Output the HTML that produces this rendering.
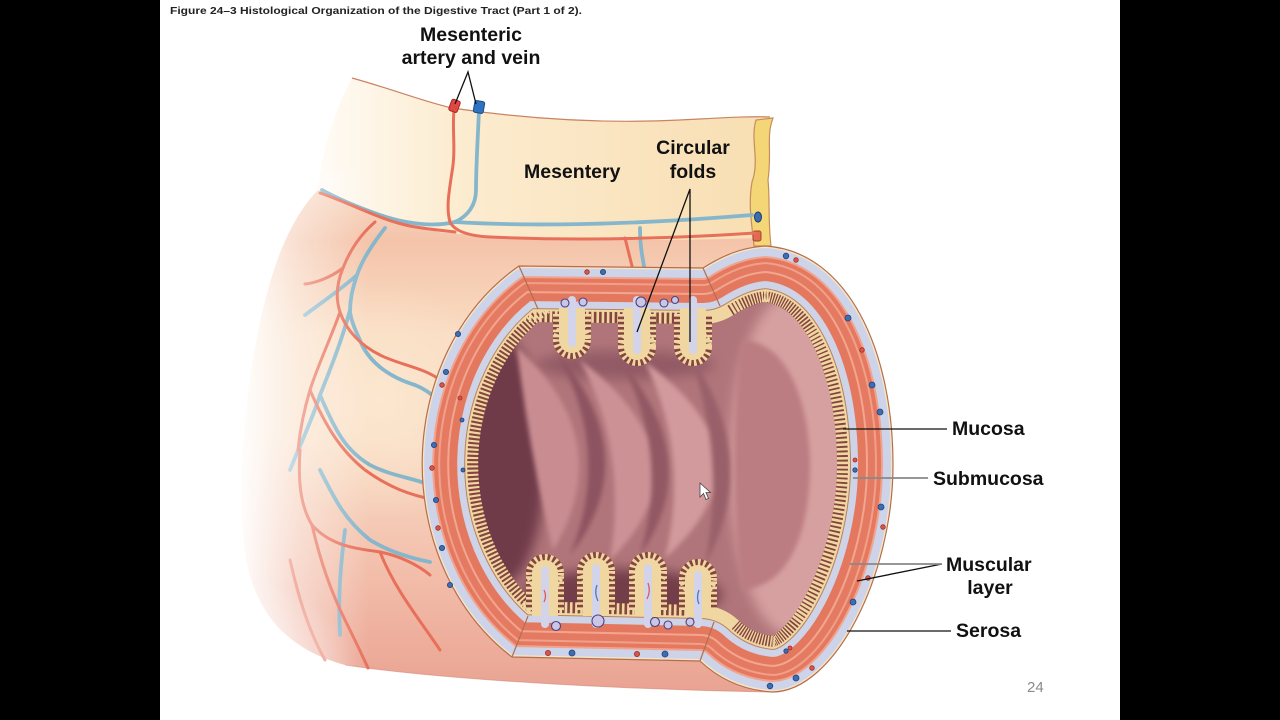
<!DOCTYPE html>
<html><head><meta charset="utf-8"><style>
html,body{margin:0;padding:0;background:#000;}
svg{display:block;}
.lb{font-family:"Liberation Sans",Arial,sans-serif;font-weight:bold;font-size:19.5px;fill:#111;}
</style></head><body>
<svg width="1280" height="720" viewBox="0 0 1280 720" xmlns="http://www.w3.org/2000/svg">
<defs>
<path id="outer" d="M519,266 L703,268 C722,256 742,247 766,246 C848,252 893,350 893,465 C893,575 835,692 772,692 C742,690 718,678 700,661 L512,657 A197,230 0 0 1 519,266 Z"/>
<clipPath id="clipO"><use href="#outer"/></clipPath>
<linearGradient id="bodyG" x1="0" y1="180" x2="0" y2="692" gradientUnits="userSpaceOnUse">
<stop offset="0" stop-color="#f8dcc8"/><stop offset="0.12" stop-color="#f4c4aa"/><stop offset="0.3" stop-color="#f9dcc2"/><stop offset="0.5" stop-color="#f9dcc3"/><stop offset="0.7" stop-color="#f4c6b2"/><stop offset="0.9" stop-color="#eeae9c"/><stop offset="1" stop-color="#e9a392"/>
</linearGradient>
<linearGradient id="fadeL" x1="236" y1="0" x2="370" y2="0" gradientUnits="userSpaceOnUse">
<stop offset="0" stop-color="#fff" stop-opacity="1"/><stop offset="0.45" stop-color="#fff" stop-opacity="0.45"/><stop offset="1" stop-color="#fff" stop-opacity="0"/>
</linearGradient>
<radialGradient id="fadeBL" cx="250" cy="690" r="110" gradientUnits="userSpaceOnUse">
<stop offset="0" stop-color="#fff" stop-opacity="0.9"/><stop offset="1" stop-color="#fff" stop-opacity="0"/>
</radialGradient>
<radialGradient id="hiL" cx="380" cy="400" r="120" gradientUnits="userSpaceOnUse">
<stop offset="0" stop-color="#fce9d2" stop-opacity="0.85"/><stop offset="1" stop-color="#fce9d2" stop-opacity="0"/>
</radialGradient>
<linearGradient id="mesG" x1="320" y1="0" x2="770" y2="0" gradientUnits="userSpaceOnUse">
<stop offset="0" stop-color="#fffbf5"/><stop offset="0.3" stop-color="#fcecd0"/><stop offset="1" stop-color="#f8deb2"/>
</linearGradient>
<filter id="bl" x="-30%" y="-30%" width="160%" height="160%"><feGaussianBlur stdDeviation="6"/></filter>
<filter id="bl2" x="-30%" y="-30%" width="160%" height="160%"><feGaussianBlur stdDeviation="2.5"/></filter>
</defs>

<rect x="0" y="0" width="1280" height="720" fill="#000"/>
<rect x="160" y="0" width="960" height="720" fill="#fff"/>

<text x="170" y="14" font-family="Liberation Sans, Arial, sans-serif" font-weight="bold" font-size="10.5" fill="#222" textLength="412" lengthAdjust="spacingAndGlyphs">Figure 24–3 Histological Organization of the Digestive Tract (Part 1 of 2).</text>

<!-- body of tube -->
<path d="M318,190 C360,208 400,226 440,232 C520,240 650,240 755,236 L800,300 L820,600 L772,692 C650,690 460,682 345,665 C290,650 252,615 244,545 C236,470 248,360 268,290 C280,245 298,210 318,190 Z" fill="url(#bodyG)"/>
<path d="M318,190 C360,208 400,226 440,232 C520,240 650,240 755,236 L800,300 L820,600 L772,692 C650,690 460,682 345,665 C290,650 252,615 244,545 C236,470 248,360 268,290 C280,245 298,210 318,190 Z" fill="url(#hiL)"/>
<path d="M345,665 C460,682 650,690 772,692" fill="none" stroke="#d48676" stroke-width="1" opacity="0.6"/>

<!-- mesentery -->
<path d="M352,78 C395,90 425,102 452,108 C520,118 600,124 680,120 C720,118 748,116 770,117 C766,150 762,200 756,238 C650,242 520,240 440,232 C400,226 350,205 318,190 C322,150 335,110 352,78 Z" fill="url(#mesG)"/>
<path d="M352,78 C395,90 425,102 452,108 C520,118 600,124 680,120 C720,118 748,116 770,117" fill="none" stroke="#c98462" stroke-width="1.2"/>
<path d="M756,120 C750,140 760,160 752,182 C748,205 752,225 754,246 L771,246 C768,222 770,200 768,180 C772,152 766,136 773,118 Z" fill="#f5d677" stroke="#c58d5c" stroke-width="1.2"/>
<ellipse cx="758" cy="217" rx="3.5" ry="5" fill="#3d6bb0" stroke="#1f3d70" stroke-width="1"/>
<rect x="753" y="231" width="8" height="10" rx="2" fill="#e06a52" stroke="#a84030" stroke-width="1"/>

<!-- vessels -->
<g fill="none" stroke-linecap="round" stroke-linejoin="round">
<g stroke="#86b6cb" stroke-width="3.8">
<path d="M479,110 C478,135 476,165 476,190 C476,205 468,216 455,222 C430,228 400,222 380,215 C360,208 340,200 322,190"/>
<path d="M455,222 C520,226 620,226 752,215"/>
<path d="M385,228 C372,245 362,260 357,275 C352,290 350,300 350,312 C352,325 358,335 362,345 C372,365 392,378 415,385 C432,392 442,402 448,420"/>
<path d="M350,310 C342,340 330,370 320,395 C312,420 300,445 290,470"/>
<path d="M357,275 C340,290 325,300 305,315"/>
<path d="M320,395 C335,430 345,450 370,465 C395,478 420,478 440,490"/>
<path d="M320,470 C335,500 345,520 370,540 C390,552 410,558 430,562"/>
<path d="M345,530 C340,570 338,600 340,635"/>
<path d="M640,228 C640,245 642,255 644,266"/>
</g>
<g stroke="#e8705a" stroke-width="3">
<path d="M454,110 C452,130 456,150 452,172 C449,192 446,208 450,222 C455,232 470,236 490,237 C560,240 650,240 755,233"/>
<path d="M320,193 C350,203 380,220 410,226 C425,229 440,230 455,232"/>
<path d="M375,222 C360,235 350,250 343,268 C336,285 336,300 340,312 C346,330 360,345 380,355 C400,365 425,368 440,380"/>
<path d="M343,268 C330,278 315,283 305,284"/>
<path d="M340,312 C330,340 318,365 310,390 C304,410 300,430 298,450"/>
<path d="M310,390 C325,425 340,450 365,470 C390,488 410,495 435,500"/>
<path d="M300,450 C298,480 300,505 312,525 C330,545 352,548 380,552 C400,556 418,565 430,575"/>
<path d="M312,525 C320,560 330,590 345,620 C355,640 362,655 368,668"/>
<path d="M290,560 C298,595 308,630 325,660"/>
<path d="M380,552 C395,590 420,620 440,650"/>
<path d="M625,238 C628,250 630,258 632,266"/>
</g>
</g>
<rect x="450" y="100" width="9" height="12" rx="2" fill="#e0473f" stroke="#a02828" stroke-width="1" transform="rotate(20 455 106)"/>
<rect x="474" y="101" width="10" height="12" rx="2" fill="#2f73c0" stroke="#1d4a85" stroke-width="1" transform="rotate(10 479 107)"/>

<rect x="230" y="170" width="140" height="530" fill="url(#fadeL)"/>
<rect x="160" y="560" width="220" height="140" fill="url(#fadeBL)"/>

<!-- cut face -->
<g clip-path="url(#clipO)">
<use href="#outer" fill="#b0757a"/>
<g filter="url(#bl)">
<ellipse cx="500" cy="462" rx="45" ry="125" fill="#6f3b4a"/>
<ellipse cx="790" cy="465" rx="60" ry="170" fill="#d6a0a0"/>
<ellipse cx="625" cy="365" rx="90" ry="14" fill="#84505b" opacity="0.7"/>
<ellipse cx="622" cy="595" rx="100" ry="26" fill="#733d4a"/>
</g>
<g filter="url(#bl2)">
<path d="M517,347 Q619,441 553,550 Q529,451 517,347 Z" fill="#c98d91"/>
<path d="M555,350 Q647,457 570,555 Q613,451 555,350 Z" fill="#8d5360"/>
<path d="M580,360 Q712,460 610,560 Q628,452 580,360 Z" fill="#cc9195"/>
<path d="M620,360 Q706,462 640,555 Q670,452 620,360 Z" fill="#925864"/>
<path d="M645,362 Q778,458 665,558 Q690,455 645,362 Z" fill="#d29a9c"/>
<path d="M690,355 Q762,460 705,565 Q726,460 690,355 Z" fill="#99606a"/>
<path d="M742,340 C795,342 810,420 810,465 C810,520 795,586 742,590 C732,520 732,400 742,340 Z" fill="#bc7d82"/>
</g>
<g fill="none" stroke-linejoin="round">
<use href="#outer" stroke="#84453f" stroke-width="112"/>
<use href="#outer" stroke="#f0d7a2" stroke-width="112" stroke-dasharray="2.6 2.6"/>
<use href="#outer" stroke="#f0d7a2" stroke-width="90"/>
<use href="#outer" stroke="#b88060" stroke-width="86"/>
<use href="#outer" stroke="#cfd3e8" stroke-width="84"/>
<use href="#outer" stroke="#e4785f" stroke-width="70"/>
<use href="#outer" stroke="#f2a68f" stroke-width="54"/>
<use href="#outer" stroke="#e57a63" stroke-width="50"/>
<use href="#outer" stroke="#f0a088" stroke-width="36"/>
<use href="#outer" stroke="#e6785f" stroke-width="32"/>
<use href="#outer" stroke="#f0a48d" stroke-width="24"/>
<use href="#outer" stroke="#cdd3e8" stroke-width="20"/>
<use href="#outer" stroke="#f6e4c4" stroke-width="4"/>
</g>
</g>
<use href="#outer" fill="none" stroke="#b46e4d" stroke-width="1.2"/>
<g stroke="#b46e4d" stroke-width="1.2">
<line x1="519" y1="266" x2="538" y2="309"/>
<line x1="703" y1="268" x2="720" y2="306"/>
<line x1="512" y1="657" x2="528" y2="616"/>
<line x1="700" y1="661" x2="714" y2="622"/>
</g>

<!-- top folds -->
<g>
<g stroke="#84453f" stroke-width="38"><line x1="572" y1="314" x2="572" y2="340"/><line x1="637" y1="314" x2="637" y2="347"/><line x1="693" y1="314" x2="693" y2="347"/></g>
<g fill="#84453f"><circle cx="572" cy="340" r="19"/><circle cx="637" cy="347" r="19"/><circle cx="693" cy="347" r="19"/></g>
<g stroke="#f0d7a2" stroke-width="38" stroke-dasharray="2.6 2.6"><line x1="572" y1="314" x2="572" y2="340"/><line x1="637" y1="314" x2="637" y2="347"/><line x1="693" y1="314" x2="693" y2="347"/></g>
<g fill="none" stroke="#f0d7a2" stroke-width="7" stroke-dasharray="2.6 2.6"><circle cx="572" cy="340" r="15.5"/><circle cx="637" cy="347" r="15.5"/><circle cx="693" cy="347" r="15.5"/></g>
<g stroke="#f0d7a2" stroke-width="26"><line x1="572" y1="308" x2="572" y2="340"/><line x1="637" y1="308" x2="637" y2="347"/><line x1="693" y1="308" x2="693" y2="347"/></g>
<g fill="#f0d7a2"><circle cx="572" cy="340" r="13"/><circle cx="637" cy="347" r="13"/><circle cx="693" cy="347" r="13"/></g>
<g stroke="#d3d4ea" stroke-width="8" stroke-linecap="round"><line x1="572" y1="300" x2="572" y2="343"/><line x1="637" y1="300" x2="637" y2="350"/><line x1="693" y1="300" x2="693" y2="350"/></g>
</g>

<!-- bottom folds -->
<g>
<g stroke="#84453f" stroke-width="38"><line x1="545" y1="610" x2="545" y2="573"/><line x1="596" y1="610" x2="596" y2="571"/><line x1="648" y1="610" x2="648" y2="571"/><line x1="698" y1="610" x2="698" y2="578"/></g>
<g fill="#84453f"><circle cx="545" cy="573" r="19"/><circle cx="596" cy="571" r="19"/><circle cx="648" cy="571" r="19"/><circle cx="698" cy="578" r="19"/></g>
<g stroke="#f0d7a2" stroke-width="38" stroke-dasharray="2.6 2.6"><line x1="545" y1="610" x2="545" y2="573"/><line x1="596" y1="610" x2="596" y2="571"/><line x1="648" y1="610" x2="648" y2="571"/><line x1="698" y1="610" x2="698" y2="578"/></g>
<g fill="none" stroke="#f0d7a2" stroke-width="7" stroke-dasharray="2.6 2.6"><circle cx="545" cy="573" r="15.5"/><circle cx="596" cy="571" r="15.5"/><circle cx="648" cy="571" r="15.5"/><circle cx="698" cy="578" r="15.5"/></g>
<g stroke="#f0d7a2" stroke-width="26"><line x1="545" y1="616" x2="545" y2="573"/><line x1="596" y1="616" x2="596" y2="571"/><line x1="648" y1="616" x2="648" y2="571"/><line x1="698" y1="616" x2="698" y2="578"/></g>
<g fill="#f0d7a2"><circle cx="545" cy="573" r="13"/><circle cx="596" cy="571" r="13"/><circle cx="648" cy="571" r="13"/><circle cx="698" cy="578" r="13"/></g>
<g stroke="#d3d4ea" stroke-width="8" stroke-linecap="round"><line x1="545" y1="624" x2="545" y2="570"/><line x1="596" y1="624" x2="596" y2="568"/><line x1="648" y1="624" x2="648" y2="568"/><line x1="698" y1="624" x2="698" y2="575"/></g>
<g fill="none" stroke-width="1.3"><path d="M544,590 q3,6 0,12" stroke="#e05a50"/><path d="M597,585 q-3,8 1,16" stroke="#4a78c0"/><path d="M648,583 q3,8 -1,16" stroke="#e05a50"/><path d="M699,590 q-3,8 0,14" stroke="#4a78c0"/></g>
</g>

<!-- glands -->
<g fill="#c9c6e6" stroke="#4d4182" stroke-width="1.1">
<circle cx="565" cy="303" r="4"/><circle cx="583" cy="302" r="4"/><circle cx="641" cy="302" r="5"/><circle cx="664" cy="303" r="4"/><circle cx="675" cy="300" r="3.5"/>
<circle cx="556" cy="626" r="4.5"/><circle cx="598" cy="621" r="6"/><circle cx="655" cy="622" r="4.5"/><circle cx="668" cy="625" r="4"/><circle cx="690" cy="622" r="4"/>
</g>

<!-- dots -->
<g fill="#3c6fb2" stroke="#243f78" stroke-width="0.8">
<circle cx="434" cy="445" r="2.6"/><circle cx="436" cy="500" r="2.6"/><circle cx="442" cy="548" r="2.6"/><circle cx="450" cy="585" r="2.6"/><circle cx="446" cy="372" r="2.6"/><circle cx="458" cy="334" r="2.6"/>
<circle cx="603" cy="272" r="2.6"/><circle cx="572" cy="653" r="3"/><circle cx="665" cy="654" r="3"/>
<circle cx="786" cy="256" r="2.8"/><circle cx="848" cy="318" r="3"/><circle cx="872" cy="385" r="3"/><circle cx="880" cy="412" r="3"/><circle cx="881" cy="507" r="3"/><circle cx="853" cy="602" r="3"/><circle cx="796" cy="678" r="3"/><circle cx="770" cy="686" r="2.8"/>
<circle cx="855" cy="470" r="2.2"/><circle cx="463" cy="470" r="2"/><circle cx="462" cy="420" r="2"/><circle cx="786" cy="651" r="2.2"/>
</g>
<g fill="#da5448" stroke="#9c3027" stroke-width="0.8">
<circle cx="442" cy="385" r="2.3"/><circle cx="432" cy="468" r="2.3"/><circle cx="438" cy="528" r="2.3"/><circle cx="460" cy="398" r="2"/>
<circle cx="587" cy="272" r="2.3"/><circle cx="548" cy="653" r="2.6"/><circle cx="637" cy="654" r="2.6"/>
<circle cx="796" cy="260" r="2.3"/><circle cx="862" cy="350" r="2.3"/><circle cx="883" cy="527" r="2.3"/><circle cx="868" cy="578" r="2.3"/><circle cx="812" cy="668" r="2.3"/><circle cx="855" cy="460" r="2"/><circle cx="790" cy="648" r="2"/>
</g>

<path d="M700,483 L700,497 L703.5,493.5 L706,499.5 L708.5,498.5 L706,492.5 L710.5,492.5 Z" fill="#fff" stroke="#444" stroke-width="0.8"/>

<!-- leader lines -->
<g stroke="#111" stroke-width="1.3" fill="none">
<path d="M455,104 L468,72 L476,104"/>
<path d="M637,332 L690,189 L690,342"/>
<line x1="843" y1="429" x2="947" y2="429"/>
<line x1="857" y1="581" x2="942" y2="564"/>
<line x1="847" y1="631" x2="951" y2="631"/>
</g>
<g stroke="#888" stroke-width="1.8">
<line x1="853" y1="478" x2="928" y2="478"/>
<line x1="850" y1="564" x2="942" y2="564"/>
</g>

<text class="lb" x="471" y="41" text-anchor="middle">Mesenteric</text>
<text class="lb" x="471" y="64" text-anchor="middle">artery and vein</text>
<text class="lb" x="524" y="178">Mesentery</text>
<text class="lb" x="693" y="154" text-anchor="middle">Circular</text>
<text class="lb" x="693" y="178" text-anchor="middle">folds</text>
<text class="lb" x="952" y="435">Mucosa</text>
<text class="lb" x="933" y="485">Submucosa</text>
<text class="lb" x="946" y="571">Muscular</text>
<text class="lb" x="990" y="594" text-anchor="middle">layer</text>
<text class="lb" x="956" y="637">Serosa</text>
<text x="1027" y="692" font-family="Liberation Sans, Arial, sans-serif" font-size="15" fill="#8a8a8a">24</text>
</svg>
</body></html>
